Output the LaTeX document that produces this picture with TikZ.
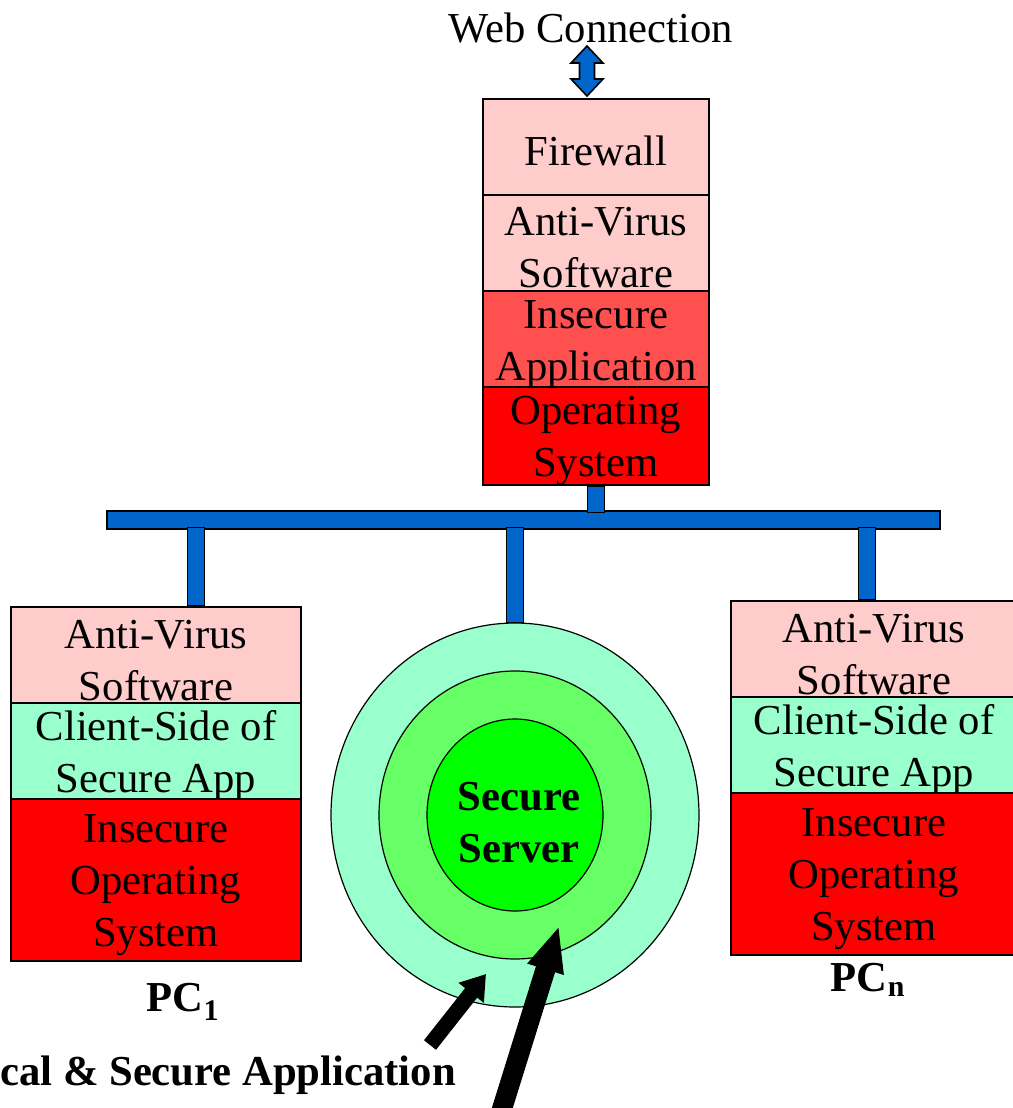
\documentclass[tikz,border=0pt]{standalone}
\usepackage{fontspec}
\setmainfont{Liberation Serif}
\usetikzlibrary{shapes.geometric,arrows.meta,calc}
\definecolor{pinkbox}{RGB}{255,204,204}
\definecolor{redlight}{RGB}{255,80,80}
\definecolor{redfull}{RGB}{255,0,0}
\definecolor{mint}{RGB}{153,255,204}
\definecolor{midgreen}{RGB}{102,255,102}
\definecolor{brightgreen}{RGB}{0,255,0}
\definecolor{busblue}{RGB}{0,102,204}
\newcommand{\toppad}{\rule{0pt}{28pt}}
\begin{document}
\begin{tikzpicture}[x=0.75pt,y=-0.75pt,
  lbl/.style={font=\fontsize{32}{39}\selectfont, align=center, inner sep=0pt},
  boldlbl/.style={lbl, font=\bfseries\fontsize{32}{39}\selectfont},
  layer/.style 2 args={draw=black, line width=1.5pt, lbl, minimum width=#1*0.75pt, minimum height=#2*0.75pt},
  busbar/.style={draw=black, fill=busblue, line width=1.1pt},
  ring/.style={ellipse, draw=black, line width=0.9pt, inner sep=0pt}
]
\useasboundingbox (0,0) rectangle (1013,1108);
\clip (0,0) rectangle (1013,1108);

% top stack
\node[layer={226}{96}, fill=pinkbox] (fw) at (596,147) {\toppad Firewall};
\node[layer={226}{97}, fill=pinkbox] (av0) at (596,243.5) {\toppad Anti-Virus\\Software};
\node[layer={226}{96}, fill=redlight] (ia) at (596,340) {\toppad Insecure\\Application};
\node[layer={226}{96}, fill=redfull] (os0) at (596,436) {\toppad Operating\\System};

% web connection
\node[lbl] (web) at (591,28) {Web Connection};
\coordinate (wa) at ($(fw.north)+(-9,-52)$);
\draw[busbar, line width=1.2pt, shift={(wa)}] (0,0) -- (16,17) -- (7.5,17) -- (7.5,33) -- (16,33) -- (0,50) -- (-16,33) -- (-7.5,33) -- (-7.5,17) -- (-16,17) -- cycle;

% left PC
\node[layer={290}{98}, fill=pinkbox] (av1) at (156,656) {\toppad Anti-Virus\\Software};
\node[layer={290}{94}, fill=mint] (cs1) at (156,752) {\toppad Client-Side of\\Secure App};
\node[layer={290}{162}, fill=redfull] (os1) at (156,880) {\toppad Insecure\\Operating\\System};
\node[boldlbl] (pc1) at (183,1002) {PC\textsubscript{1}};

% right PC
\node[layer={286}{98}, fill=pinkbox] (avn) at (874,650) {\toppad Anti-Virus\\Software};
\node[layer={286}{94}, fill=mint] (csn) at (874,746) {\toppad Client-Side of\\Secure App};
\node[layer={286}{162}, fill=redfull] (osn) at (874,874) {\toppad Insecure\\Operating\\System};
\node[boldlbl] (pcn) at (868,980) {PC\textsubscript{n}};

% secure server rings
\node[ring, fill=mint, minimum width=368*0.75pt, minimum height=384*0.75pt] (outer) at (515,815) {};
\node[ring, fill=midgreen, minimum width=272*0.75pt, minimum height=288*0.75pt] (middle) at (515,815) {};
\node[ring, fill=brightgreen, minimum width=176*0.75pt, minimum height=192*0.75pt] (inner) at (515,815) {};
\node[boldlbl] (srv) at (519,823) {Secure\\Server};

% bus
\node[busbar, inner sep=0pt, minimum width=833*0.75pt, minimum height=18*0.75pt] (bus) at (523.5,520) {};
\draw[busbar] ($(os0.south)+(-8.5,0)$) rectangle ($(os0.south |- bus.north)+(8.5,2)$);
\coordinate (t1) at (196,0);
\coordinate (t2) at (515,0);
\coordinate (t3) at (867,0);
\draw[busbar] ($(t1 |- bus.south)+(-8.5,-2)$) rectangle ($(t1 |- av1.north)+(8.5,0)$);
\draw[busbar] ($(t2 |- bus.south)+(-8.5,-2)$) rectangle ($(outer.north)+(8.5,0)$);
\draw[busbar] ($(t3 |- bus.south)+(-8.5,-2)$) rectangle ($(t3 |- avn.north)+(8.5,0)$);

% bottom label and pointers
\node[boldlbl, anchor=west] (app) at (0,1075) {cal \& Secure Application};
\coordinate (a1s) at (430,1045);
\coordinate (a1e) at (486,974);
\draw[line width=11.5pt, -{Triangle[length=18pt,width=23pt]}] (a1s) -- (a1e);
\coordinate (a2s) at (497,1125);
\coordinate (a2e) at (559,926);
\draw[line width=15pt, -{Triangle[length=34pt,width=26pt]}] (a2s) -- (a2e);
\end{tikzpicture}
\end{document}
